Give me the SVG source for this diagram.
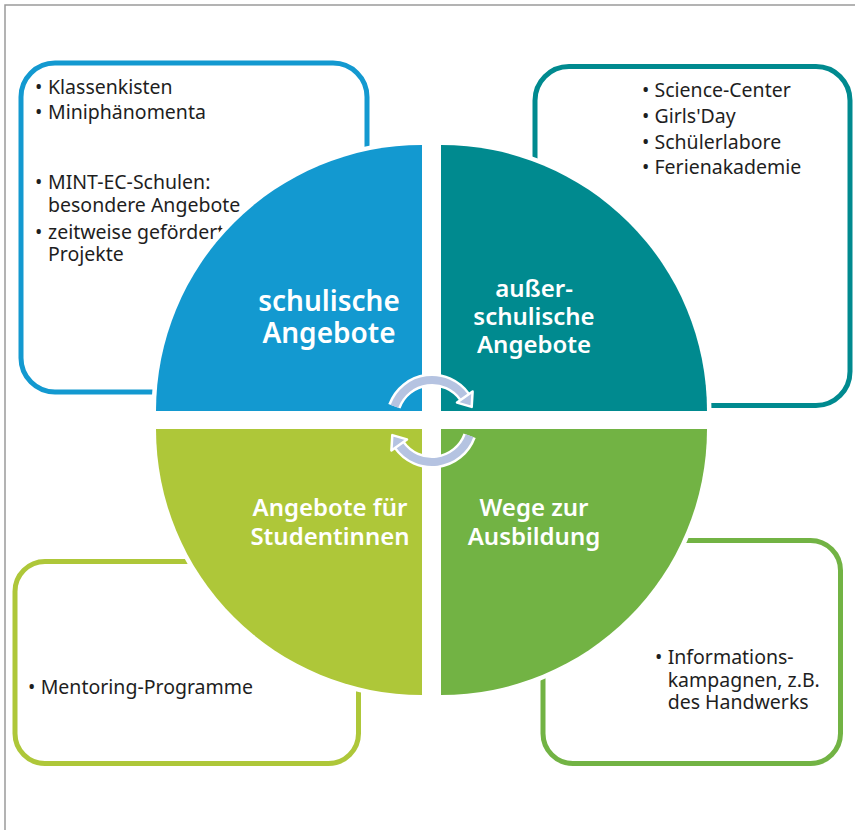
<svg xmlns="http://www.w3.org/2000/svg" width="855" height="830" viewBox="0 0 855 830">
<style>
.frame{fill:none;stroke:#9a9a9a;stroke-width:1.5}
.box{fill:#fff;stroke-width:5}
.txt{font-family:"Noto Sans","Open Sans",sans-serif;font-size:19.5px;fill:#1e1e1e}
.quad{stroke:#fff;stroke-width:9;paint-order:stroke}
.lbl{font-family:"Noto Sans","Open Sans",sans-serif;font-weight:600;fill:#fff;text-anchor:middle}
.arc-w{fill:none;stroke:#fff;stroke-width:13}
.arc-c{fill:none;stroke:#b5c3e1;stroke-width:8}
.head{fill:#b5c3e1;stroke:#fff;stroke-width:2.5;stroke-linejoin:round}
</style>
<rect width="855" height="830" fill="#fff"/>
<path class="frame" d="M5,830 V5 H855"/>

<g id="box-schulisch">
<rect class="box" x="21" y="63" width="346" height="329" rx="34" stroke="#1399d0"/>
<text class="txt"><tspan x="35" y="94">•</tspan><tspan x="48" y="94">Klassenkisten</tspan><tspan x="35" y="119">•</tspan><tspan x="48" y="119">Miniphänomenta</tspan><tspan x="35" y="189">•</tspan><tspan x="48" y="189">MINT-EC-Schulen:</tspan><tspan x="48" y="212">besondere Angebote</tspan><tspan x="35" y="239">•</tspan><tspan x="48" y="239">zeitweise geförderte</tspan><tspan x="48" y="261">Projekte</tspan></text>
</g>

<g id="box-ausserschulisch">
<rect class="box" x="535" y="66.5" width="315" height="339" rx="34" stroke="#008a8f"/>
<text class="txt"><tspan x="642" y="97">•</tspan><tspan x="654.5" y="97">Science-Center</tspan><tspan x="642" y="122.5">•</tspan><tspan x="654.5" y="122.5">Girls'Day</tspan><tspan x="642" y="148.5">•</tspan><tspan x="654.5" y="148.5">Schülerlabore</tspan><tspan x="642" y="174">•</tspan><tspan x="654.5" y="174">Ferienakademie</tspan></text>
</g>

<g id="box-studentinnen">
<rect class="box" x="15" y="561.5" width="343.5" height="202" rx="30" stroke="#aec739"/>
<text class="txt"><tspan x="28" y="694">•</tspan><tspan x="40.7" y="694">Mentoring-Programme</tspan></text>
</g>

<g id="box-ausbildung">
<rect class="box" x="543" y="540.5" width="297.5" height="223" rx="30" stroke="#72b344"/>
<text class="txt"><tspan x="655" y="664">•</tspan><tspan x="667.7" y="664">Informations-</tspan><tspan x="667.7" y="686.5">kampagnen, z.B.</tspan><tspan x="667.7" y="708.5">des Handwerks</tspan></text>
</g>

<g id="q-schulisch">
<path class="quad" fill="#1399d0" d="M422,411 L156,411 A266,266 0 0 1 422,145 Z"/>
<text class="lbl" font-size="28"><tspan x="329" y="311">schulische</tspan><tspan x="329" y="343">Angebote</tspan></text>
</g>
<g id="q-ausserschulisch">
<path class="quad" fill="#008a8f" d="M441,411 L441,145 A266,266 0 0 1 707,411 Z"/>
<text class="lbl" font-size="24"><tspan x="534" y="297">außer-</tspan><tspan x="534" y="325">schulische</tspan><tspan x="534" y="353">Angebote</tspan></text>
</g>
<g id="q-studentinnen">
<path class="quad" fill="#aec739" d="M422,429 L422,695 A266,266 0 0 1 156,429 Z"/>
<text class="lbl" font-size="24"><tspan x="330" y="516">Angebote für</tspan><tspan x="330" y="545">Studentinnen</tspan></text>
</g>
<g id="q-ausbildung">
<path class="quad" fill="#72b344" d="M441,429 L707,429 A266,266 0 0 1 441,695 Z"/>
<text class="lbl" font-size="24"><tspan x="534" y="516">Wege zur</tspan><tspan x="534" y="545">Ausbildung</tspan></text>
</g>

<g id="connectors">
<g id="arrow-top">
<path class="arc-w" d="M394.4,406.3 A40,40 0 0 1 464.8,397.1"/>
<path class="arc-c" d="M394.4,406.3 A40,40 0 0 1 464.8,397.1"/>
<polygon class="head" points="472.6,391.6 457,402.6 471.7,406.9"/>
</g>
<g id="arrow-bottom" transform="rotate(180 432 421)">
<path class="arc-w" d="M394.4,406.3 A40,40 0 0 1 464.8,397.1"/>
<path class="arc-c" d="M394.4,406.3 A40,40 0 0 1 464.8,397.1"/>
<polygon class="head" points="472.6,391.6 457,402.6 471.7,406.9"/>
</g>
</g>
</svg>
